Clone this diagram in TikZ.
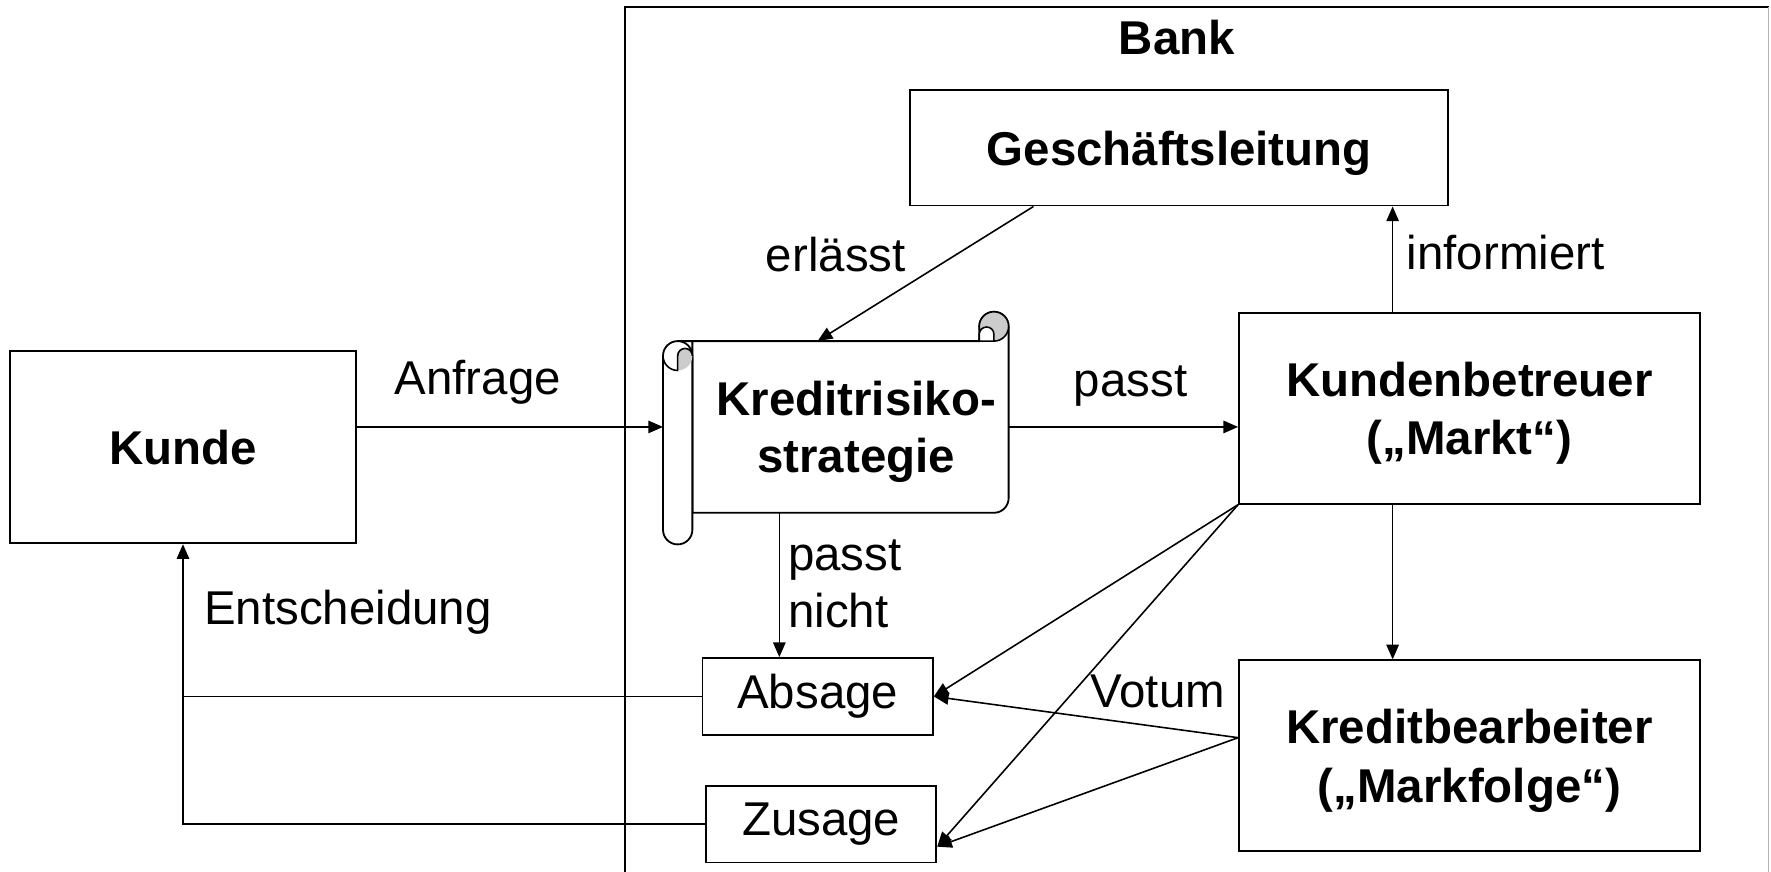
\documentclass[tikz,border=0pt]{standalone}
\usepackage{fontspec}
\setmainfont{Liberation Sans}
\usetikzlibrary{arrows.meta,positioning}

\begin{document}
\begin{tikzpicture}[x=1pt, y=-1pt,
      every node/.style={font=\fontsize{42}{50}\selectfont, inner sep=0pt},
      box/.style={draw, line width=1.6pt, fill=white, align=center, text depth=0pt,
                  font=\fontsize{42}{52}\selectfont\bfseries},
      small/.style={draw, line width=1.6pt, fill=white,
                  minimum width=204pt, minimum height=68pt},
      lbl/.style={align=left},
      arr/.style={-{Triangle[length=13pt, width=11pt]}, line width=1.4pt},
      ln/.style={line width=1.4pt},
      scroll/.style={draw, line width=1.6pt, fill=white},
      curl/.style={draw, line width=1.4pt, fill=gray!40}
  ]
    \useasboundingbox (0,0) rectangle (1568,772);
    % bank frame
    \draw[line width=1.8pt] (553,772) -- (553,6) -- (1566,6);
    \draw[line width=1pt, gray!60] (1566,6) -- (1566,772);
    \node[font=\fontsize{42}{50}\selectfont\bfseries] (bank) at (1042,33) {Bank};

    \node[box, minimum width=306pt, minimum height=170pt] (kunde) at (162,396) {Kunde};
    \node[box, minimum width=476pt, minimum height=102pt] (gl) at (1044,131) {Geschäftsleitung};
    \node[box, minimum width=408pt, minimum height=169pt] (kbt) at (1301,361.5) {Kundenbetreuer\\(„Markt“)};
    \node[box, minimum width=408pt, minimum height=169pt, below=137pt of kbt] (kb) {Kreditbearbeiter\\(„Markfolge“)};
    \node[small] (absage) at (724,616.6) {Absage};
    \node[small] (zusage) at (727,729.6) {Zusage};

    % scroll
    \filldraw[scroll] (600,302) -- (867,302) -- (867,289) arc[start angle=180, end angle=0, radius=13pt]
      -- (893,441) arc[start angle=0, end angle=-90, radius=13pt] -- (613,454) -- (613,302) -- cycle;
    \filldraw[curl] (880,289) circle[radius=13pt];
    \filldraw[scroll, line width=1.4pt] (867,302) -- (867,296) arc[start angle=180, end angle=0, radius=6.5pt] -- (880,302) -- cycle;
    \filldraw[scroll] (587,315) arc[start angle=180, end angle=0, radius=13pt]
      -- (613,469) arc[start angle=0, end angle=-180, radius=13pt] -- cycle;
    \fill[gray!40] (600,328) -- (600,315) arc[start angle=180, end angle=0, radius=6.5pt]
      arc[start angle=0, end angle=-90, radius=13pt] -- cycle;
    \draw[line width=1.4pt] (587,315) arc[start angle=180, end angle=270, radius=13pt]
      -- (600,315) arc[start angle=180, end angle=0, radius=6.5pt];
    \node[align=center, font=\fontsize{42}{50}\selectfont\bfseries, text depth=0pt,
          minimum width=270pt, minimum height=152pt] (strat) at (758,378) {Kreditrisiko-\\strategie};
    \coordinate (rollL) at (587,378);

    % labels
    \node (anfrage) at (423,338) {Anfrage};
    \node (erl) at (740,225) {erlässt};
    \node (passt) at (1001,342) {passt};
    \node (info) at (1333,224) {informiert};
    \node[lbl] (nicht) at (748,517) {passt\\nicht};
    \node (entsch) at (308,542) {Entscheidung};
    \node (votum) at (1025,612) {Votum};

    % connectors
    \draw[arr] (kunde.east |- strat.west) -- (rollL);
    \draw[arr] ([xshift=-129pt]gl.south) -- ([xshift=-34pt]strat.north);
    \draw[arr] (strat.east) -- (strat.east -| kbt.west);
    \draw[arr] ([xshift=-68pt]kbt.north) -- ([xshift=-68pt]kbt.north |- gl.south);
    \draw[arr] ([xshift=-68pt]strat.south) -- ([xshift=-68pt]strat.south |- absage.north);
    \draw[arr] ([xshift=-68pt]kbt.south) -- ([xshift=-68pt]kb.north);
    \draw[arr] (kbt.south west) -- (absage.east);
    \draw[arr] (kbt.south west) -- ([yshift=-20pt]zusage.east);
    \draw[arr] ([yshift=16pt]kb.west) -- (absage.east);
    \draw[arr] ([yshift=16pt]kb.west) -- ([yshift=-20pt]zusage.east);
    \draw[ln] (zusage.west) -| (absage.west -| kunde.south);
    \draw[arr] (absage.west) -| (kunde.south);
\end{tikzpicture}
\end{document}
